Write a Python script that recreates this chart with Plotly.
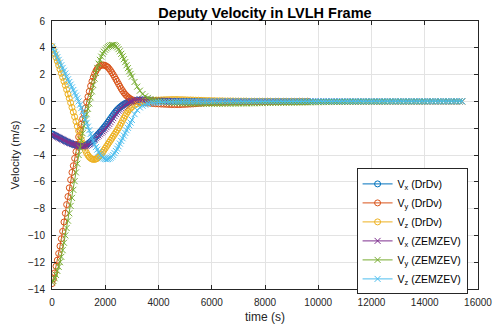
import numpy as np
import plotly.graph_objects as go

# Sample times (s): 50 s steps through the transient, 100 s afterwards
t_head = np.arange(0, 3001, 50)          # 61 samples
t_mid = np.arange(3100, 5001, 100)       # 20 samples
t_tail_drdv = np.arange(5100, 9601, 100)  # 46 samples
t_tail_zem = np.arange(5100, 15401, 100)  # 104 samples
t_drdv = np.concatenate([t_head, t_mid, t_tail_drdv])
t_zem = np.concatenate([t_head, t_mid, t_tail_zem])

# DrDv guidance velocities (m/s)
vx_drdv = [
    -2.42, -2.47, -2.53, -2.58, -2.63, -2.69, -2.74, -2.79, -2.84, -2.90,
    -2.95, -3.00, -3.04, -3.09, -3.13, -3.17, -3.21, -3.24, -3.27, -3.30,
    -3.32, -3.33, -3.33, -3.32, -3.30, -3.27, -3.22, -3.16, -3.09, -3.01,
    -2.92, -2.83, -2.73, -2.63, -2.52, -2.41, -2.30, -2.19, -2.07, -1.95,
    -1.83, -1.70, -1.56, -1.42, -1.28, -1.14, -1.00, -0.87, -0.74, -0.63,
    -0.53, -0.44, -0.36, -0.28, -0.22, -0.16, -0.11, -0.07, -0.03, 0.00,
    0.03,
    0.07, 0.10, 0.11, 0.11, 0.10, 0.09, 0.08, 0.07, 0.06, 0.05,
    0.04, 0.04, 0.03, 0.03, 0.02, 0.02, 0.02, 0.01, 0.01, 0.01,
    0.01, 0.01, 0.01, 0.01, 0.01, 0.01, 0.00, 0.00, 0.00, 0.00,
    0.00, 0.00, 0.00, 0.00, 0.00, 0.00, 0.00, 0.00, 0.00, 0.00,
    0.00, 0.00, 0.00, 0.00, 0.00, 0.00, 0.00, 0.00, 0.00, 0.00,
    0.00, 0.00, 0.00, 0.00, 0.00, 0.00, 0.00, 0.00, 0.00, 0.00,
    0.00, 0.00, 0.00, 0.00, 0.00, 0.00,
]
vy_drdv = [
    -13.60, -13.25, -12.80, -12.30, -11.85, -11.35, -10.80, -10.25, -9.70, -9.00,
    -8.35, -7.70, -7.10, -6.45, -5.85, -5.30, -4.80, -4.25, -3.75, -3.20,
    -2.65, -2.15, -1.70, -1.30, -0.90, -0.50, -0.05, 0.35, 0.75, 1.15,
    1.50, 1.80, 2.05, 2.27, 2.45, 2.57, 2.65, 2.70, 2.72, 2.71,
    2.68, 2.62, 2.55, 2.43, 2.30, 2.15, 2.00, 1.83, 1.65, 1.48,
    1.30, 1.12, 0.95, 0.80, 0.65, 0.53, 0.42, 0.33, 0.25, 0.18,
    0.12,
    0.06, 0.01, -0.03, -0.07, -0.10, -0.12, -0.14, -0.16, -0.18, -0.19,
    -0.20, -0.21, -0.22, -0.23, -0.24, -0.24, -0.24, -0.24, -0.23, -0.22,
    -0.21, -0.20, -0.19, -0.17, -0.15, -0.14, -0.12, -0.11, -0.10, -0.09,
    -0.08, -0.07, -0.07, -0.06, -0.06, -0.05, -0.05, -0.04, -0.04, -0.04,
    -0.03, -0.03, -0.03, -0.03, -0.02, -0.02, -0.02, -0.02, -0.02, -0.02,
    -0.01, -0.01, -0.01, -0.01, -0.01, -0.01, -0.01, -0.01, -0.01, -0.01,
    -0.01, -0.01, 0.00, 0.00, 0.00, 0.00,
]
vz_drdv = [
    4.10, 3.83, 3.55, 3.28, 3.00, 2.70, 2.40, 2.10, 1.80, 1.50,
    1.20, 0.88, 0.55, 0.23, -0.10, -0.45, -0.80, -1.15, -1.50, -1.85,
    -2.20, -2.53, -2.85, -3.13, -3.40, -3.64, -3.85, -4.02, -4.15, -4.24,
    -4.30, -4.33, -4.33, -4.30, -4.25, -4.16, -4.05, -3.93, -3.80, -3.65,
    -3.50, -3.35, -3.20, -3.05, -2.90, -2.75, -2.60, -2.45, -2.30, -2.14,
    -1.98, -1.80, -1.62, -1.43, -1.25, -1.07, -0.90, -0.75, -0.62, -0.52,
    -0.42,
    -0.28, -0.18, -0.10, -0.04, 0.00, 0.03, 0.05, 0.07, 0.09, 0.10,
    0.11, 0.12, 0.13, 0.13, 0.14, 0.14, 0.14, 0.13, 0.13, 0.12,
    0.11, 0.11, 0.10, 0.09, 0.09, 0.08, 0.07, 0.06, 0.06, 0.05,
    0.05, 0.04, 0.04, 0.04, 0.03, 0.03, 0.03, 0.03, 0.02, 0.02,
    0.02, 0.02, 0.02, 0.01, 0.01, 0.01, 0.01, 0.01, 0.01, 0.01,
    0.01, 0.01, 0.00, 0.00, 0.00, 0.00, 0.00, 0.00, 0.00, 0.00,
    0.00, 0.00, 0.00, 0.00, 0.00, 0.00,
]

# ZEM/ZEV guidance velocities (m/s)
vx_zem = [
    -2.45, -2.50, -2.55, -2.60, -2.65, -2.70, -2.75, -2.80, -2.85, -2.90,
    -2.95, -3.00, -3.05, -3.09, -3.13, -3.17, -3.20, -3.24, -3.27, -3.30,
    -3.32, -3.34, -3.35, -3.36, -3.35, -3.33, -3.30, -3.26, -3.20, -3.13,
    -3.05, -2.95, -2.85, -2.75, -2.65, -2.55, -2.45, -2.35, -2.25, -2.15,
    -2.05, -1.93, -1.80, -1.68, -1.55, -1.40, -1.25, -1.10, -0.95, -0.82,
    -0.70, -0.60, -0.50, -0.41, -0.32, -0.25, -0.18, -0.12, -0.07, -0.02,
    0.02,
    0.08, 0.12, 0.14, 0.14, 0.13, 0.12, 0.10, 0.09, 0.07, 0.06,
    0.05, 0.04, 0.04, 0.03, 0.03, 0.02, 0.02, 0.02, 0.01, 0.01,
    # 5100-6000
    0.01, 0.01, 0.01, 0.01, 0.01, 0.01, 0.01, 0.01, 0.01, 0.01,
    # 6100-7000
    0.00, 0.00, 0.00, 0.00, 0.00, 0.00, 0.00, 0.00, 0.00, 0.00,
    # 7100-8000
    0.00, 0.00, 0.00, 0.00, 0.00, 0.00, 0.00, 0.00, 0.00, 0.00,
    # 8100-9000
    0.00, 0.00, 0.00, 0.00, 0.00, 0.00, 0.00, 0.00, 0.00, 0.00,
    # 9100-10000
    0.00, 0.00, 0.00, 0.00, 0.00, 0.00, 0.00, 0.00, 0.00, 0.00,
    # 10100-11000
    0.00, 0.00, 0.00, 0.00, 0.00, 0.00, 0.00, 0.00, 0.00, 0.00,
    # 11100-12000
    0.00, 0.00, 0.00, 0.00, 0.00, 0.00, 0.00, 0.00, 0.00, 0.00,
    # 12100-13000
    0.00, 0.00, 0.00, 0.00, 0.00, 0.00, 0.00, 0.00, 0.00, 0.00,
    # 13100-14000
    0.00, 0.00, 0.00, 0.00, 0.00, 0.00, 0.00, 0.00, 0.00, 0.00,
    # 14100-15000
    0.00, 0.00, 0.00, 0.00, 0.00, 0.00, 0.00, 0.00, 0.00, 0.00,
    # 15100-15400
    0.00, 0.00, 0.00, 0.00,
]
vy_zem = [
    -13.50, -13.40, -13.20, -12.95, -12.65, -12.35, -12.00, -11.60, -11.10, -10.55,
    -10.00, -9.45, -8.90, -8.35, -7.80, -7.20, -6.60, -5.95, -5.30, -4.65,
    -4.00, -3.45, -2.90, -2.38, -1.85, -1.40, -0.95, -0.55, -0.15, 0.30,
    0.75, 1.22, 1.70, 2.12, 2.50, 2.82, 3.10, 3.34, 3.55, 3.71,
    3.85, 3.96, 4.05, 4.12, 4.18, 4.21, 4.22, 4.20, 4.13, 4.03,
    3.90, 3.74, 3.55, 3.36, 3.15, 2.93, 2.70, 2.48, 2.25, 2.05,
    1.85,
    1.45, 1.10, 0.80, 0.55, 0.38, 0.26, 0.18, 0.12, 0.07, 0.03,
    0.00, -0.03, -0.05, -0.07, -0.09, -0.10, -0.11, -0.12, -0.13, -0.14,
    # 5100-6000
    -0.15, -0.15, -0.16, -0.16, -0.16, -0.16, -0.17, -0.17, -0.17, -0.17,
    # 6100-7000
    -0.17, -0.17, -0.17, -0.17, -0.16, -0.16, -0.16, -0.16, -0.16, -0.15,
    # 7100-8000
    -0.15, -0.15, -0.15, -0.14, -0.14, -0.14, -0.13, -0.13, -0.13, -0.12,
    # 8100-9000
    -0.12, -0.12, -0.11, -0.11, -0.11, -0.10, -0.10, -0.10, -0.09, -0.09,
    # 9100-10000
    -0.09, -0.08, -0.08, -0.08, -0.07, -0.07, -0.07, -0.06, -0.06, -0.06,
    # 10100-11000
    -0.05, -0.05, -0.05, -0.05, -0.04, -0.04, -0.04, -0.04, -0.04, -0.03,
    # 11100-12000
    -0.03, -0.03, -0.03, -0.03, -0.03, -0.02, -0.02, -0.02, -0.02, -0.02,
    # 12100-13000
    -0.02, -0.02, -0.02, -0.02, -0.02, -0.01, -0.01, -0.01, -0.01, -0.01,
    # 13100-14000
    -0.01, -0.01, -0.01, -0.01, -0.01, -0.01, -0.01, -0.01, -0.01, -0.01,
    # 14100-15000
    0.00, 0.00, 0.00, 0.00, 0.00, 0.00, 0.00, 0.00, 0.00, 0.00,
    # 15100-15400
    0.00, 0.00, 0.00, 0.00,
]
vz_zem = [
    4.10, 3.90, 3.70, 3.50, 3.30, 3.10, 2.90, 2.70, 2.50, 2.29,
    2.08, 1.86, 1.65, 1.45, 1.25, 1.05, 0.85, 0.64, 0.43, 0.22,
    0.00, -0.25, -0.50, -0.75, -1.00, -1.30, -1.60, -1.88, -2.15, -2.43,
    -2.70, -2.96, -3.20, -3.41, -3.60, -3.78, -3.95, -4.09, -4.20, -4.26,
    -4.30, -4.32, -4.30, -4.26, -4.20, -4.11, -4.00, -3.86, -3.70, -3.53,
    -3.35, -3.15, -2.95, -2.75, -2.55, -2.35, -2.15, -1.97, -1.78, -1.58,
    -1.38,
    -0.95, -0.65, -0.45, -0.32, -0.24, -0.18, -0.14, -0.11, -0.09, -0.07,
    -0.06, -0.05, -0.04, -0.04, -0.03, -0.03, -0.02, -0.02, -0.02, -0.01,
    # 5100-6000
    -0.01, -0.01, -0.01, 0.00, 0.00, 0.00, 0.00, 0.01, 0.01, 0.01,
    # 6100-7000
    0.02, 0.02, 0.02, 0.02, 0.02, 0.02, 0.02, 0.02, 0.02, 0.02,
    # 7100-8000
    0.02, 0.02, 0.02, 0.02, 0.02, 0.02, 0.02, 0.02, 0.02, 0.02,
    # 8100-9000
    0.02, 0.02, 0.02, 0.02, 0.02, 0.02, 0.02, 0.02, 0.02, 0.02,
    # 9100-10000
    0.02, 0.02, 0.02, 0.02, 0.02, 0.02, 0.02, 0.02, 0.02, 0.02,
    # 10100-11000
    0.02, 0.02, 0.02, 0.02, 0.02, 0.02, 0.02, 0.02, 0.02, 0.02,
    # 11100-12000
    0.02, 0.02, 0.02, 0.02, 0.02, 0.02, 0.02, 0.02, 0.02, 0.02,
    # 12100-13000
    0.02, 0.02, 0.02, 0.02, 0.02, 0.02, 0.02, 0.02, 0.02, 0.02,
    # 13100-14000
    0.02, 0.02, 0.02, 0.02, 0.02, 0.02, 0.02, 0.02, 0.02, 0.02,
    # 14100-15000
    0.02, 0.02, 0.02, 0.02, 0.02, 0.02, 0.02, 0.02, 0.02, 0.02,
    # 15100-15400
    0.02, 0.02, 0.02, 0.02,
]

series_names = [
    "V<sub>x</sub> (DrDv)", "V<sub>y</sub> (DrDv)", "V<sub>z</sub> (DrDv)",
    "V<sub>x</sub> (ZEMZEV)", "V<sub>y</sub> (ZEMZEV)", "V<sub>z</sub> (ZEMZEV)",
]
series_values = [vx_drdv, vy_drdv, vz_drdv, vx_zem, vy_zem, vz_zem]
series_times = [t_drdv, t_drdv, t_drdv, t_zem, t_zem, t_zem]
colors = ["#0072BD", "#D95319", "#EDB120", "#7E2F8E", "#77AC30", "#4DBEEE"]
symbols = ["circle-open"] * 3 + ["x-thin-open"] * 3

x_ticks = list(range(0, 16001, 2000))
y_ticks = list(range(-14, 7, 2))

FONT = "Liberation Sans, Arial, Helvetica, sans-serif"
AXIS_COLOR = "#262626"

mismatch = [(n, len(t), len(v)) for n, t, v in zip(series_names, series_times, series_values)
            if len(t) != len(v)]
assert not mismatch, mismatch

fig = go.Figure()
for name, t, v, c, s in zip(series_names, series_times, series_values, colors, symbols):
    fig.add_trace(go.Scatter(
        x=t, y=v, name=name, mode="lines+markers",
        line=dict(color=c, width=1),
        marker=dict(symbol=s, size=6, color=c, line=dict(color=c, width=1)),
    ))

axis_common = dict(
    showline=True, linecolor=AXIS_COLOR, linewidth=1, mirror="ticks",
    ticks="inside", ticklen=4, tickcolor=AXIS_COLOR, tickwidth=1,
    showgrid=True, gridcolor="#e3e3e3", gridwidth=1, zeroline=False,
    tickfont=dict(family=FONT, size=10, color=AXIS_COLOR),
    automargin=False,
)

fig.update_layout(
    width=494, height=326,
    margin=dict(l=52, r=16, t=21, b=37, autoexpand=False),
    paper_bgcolor="white", plot_bgcolor="white",
    font=dict(family=FONT, color=AXIS_COLOR),
    title=dict(
        text="<b>Deputy Velocity in LVLH Frame</b>",
        font=dict(family=FONT, size=14.5, color="#000000"),
        x=0.5, xref="paper", xanchor="center",
        y=1 - 12.5 / 326, yref="container", yanchor="middle",
    ),
    xaxis=dict(
        range=[0, 16000], tickvals=x_ticks, tickformat="d", ticklabelstandoff=4,
        title=dict(text="time (s)", font=dict(family=FONT, size=12, color=AXIS_COLOR), standoff=5),
        **axis_common,
    ),
    yaxis=dict(
        range=[-14, 6], tickvals=y_ticks, ticklabelstandoff=4,
        title=dict(text="Velocity (m/s)", font=dict(family=FONT, size=11.5, color=AXIS_COLOR), standoff=6),
        **axis_common,
    ),
    legend=dict(
        x=0.715, y=0.45, xanchor="left", yanchor="top",
        bgcolor="white", bordercolor=AXIS_COLOR, borderwidth=1,
        font=dict(family=FONT, size=10.5, color="#000000"),
        itemwidth=30, tracegroupgap=0,
    ),
    showlegend=True,
)

fig.write_html("out.html")
